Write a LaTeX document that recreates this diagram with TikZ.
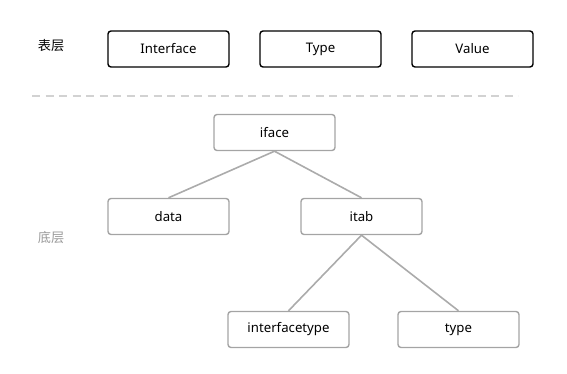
\documentclass[tikz,border=0pt]{standalone}
\usepackage{fontspec}
\setmainfont{Noto Sans}
\newfontfamily\cjk{Noto Sans CJK SC}
\usepackage{tikz}

\definecolor{boxgray}{HTML}{A4A4A4}
\definecolor{linegray}{HTML}{ABABAB}
\definecolor{dashgray}{HTML}{D2D2D2}
\definecolor{labelgray}{HTML}{9A9A9A}

\begin{document}
\begin{tikzpicture}[x=1pt,y=-1pt,
        font=\fontsize{13.2}{16}\selectfont,
        topbox/.style={draw=black,line width=1.4pt,rounded corners=3pt,minimum width=121pt,minimum height=36pt,inner sep=0pt},
        lowbox/.style={draw=boxgray,line width=1.4pt,rounded corners=3pt,minimum width=121pt,minimum height=36pt,inner sep=0pt},
        link/.style={draw=linegray,line width=1.6pt}]
            \useasboundingbox (0,0) rectangle (567,374);
            % upper layer
            \node (surface) at (51,46) {\cjk 表层};
            \node[topbox] (interface) at (168.5,49) {Interface};
            \node[topbox] (typ) at (320.5,49) {Type};
            \node[topbox] (value) at (472.5,49) {Value};
            % separator
            \coordinate (sepl) at (32,96);
            \coordinate (sepr) at (518,96);
            \draw[dashgray,line width=2pt,dash pattern=on 8pt off 5.5pt] (sepl)--(sepr);
            % lower layer
            \node[labelgray] (bottom) at (51,238) {\cjk 底层};
            \node[lowbox] (iface) at (274.5,132.5) {iface};
            \node[lowbox] (data) at (168.5,216.5) {data};
            \node[lowbox] (itab) at (361.5,216.5) {itab};
            \node[lowbox] (itype) at (288.5,329.5) {interfacetype};
            \node[lowbox] (rtype) at (458.5,329.5) {type};
            \draw[link] (iface.south)--(data.north);
            \draw[link] (iface.south)--(itab.north);
            \draw[link] (itab.south)--(itype.north);
            \draw[link] (itab.south)--(rtype.north);
        \end{tikzpicture}
\end{document}
